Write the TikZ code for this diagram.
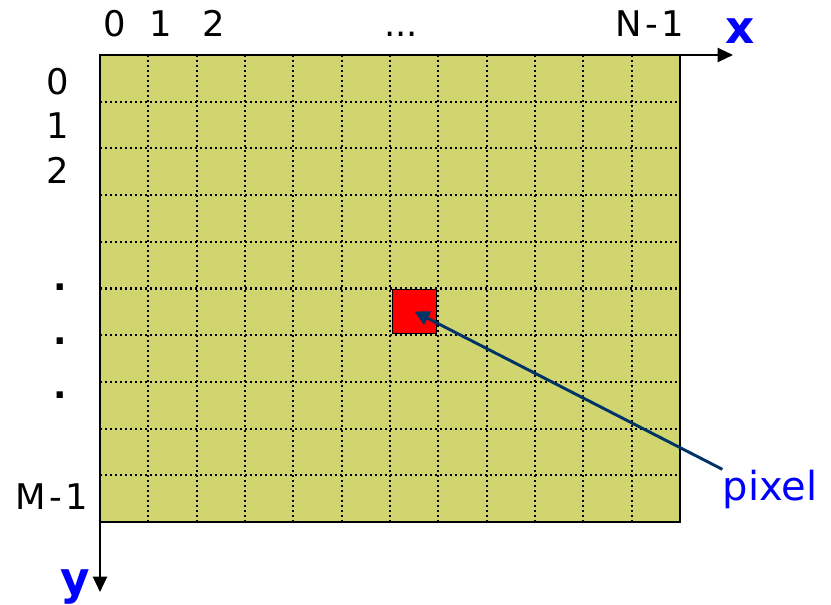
\documentclass[tikz,border=0pt]{standalone}
\usepackage{fontspec}
\setmainfont{DejaVu Sans}
\usetikzlibrary{arrows.meta, positioning}
\definecolor{gridfill}{RGB}{208,213,111}
\definecolor{navy}{RGB}{0,51,102}

\begin{document}
\begin{tikzpicture}[x=0.75pt, y=-0.75pt,
  every node/.style={inner sep=0pt, font=\fontsize{26.5}{30}\selectfont},
  cellline/.style={line width=1.6pt, dash pattern=on 1.6pt off 2.15pt},
  axis/.style={line width=1.6pt, -{Triangle[length=11.5pt, width=10.5pt]}},
  axislbl/.style={text=blue, font=\fontsize{34}{40}\selectfont\bfseries},
  pixbox/.style={draw, line width=1.2pt, fill=red, minimum size=33pt}]

\useasboundingbox (0,0) rectangle (831,604);

% image area with cell lines
\fill[gridfill] (100,55) rectangle (680,522);
\foreach \i in {1,...,11}
  \draw[cellline] (100+48.333*\i,55) -- (100+48.333*\i,522);
\foreach \j in {1,...,9}
  \draw[cellline] (100,55+46.7*\j) -- (680,55+46.7*\j);
\draw[line width=1.2pt] (100,55) rectangle (680,522);

% axes
\coordinate (origin) at (100,55);
\coordinate (xend) at (733,55);
\coordinate (yend) at (100,592);
\draw[axis] (origin) -- (xend);
\draw[axis] (origin) -- (yend);
\node[axislbl, anchor=base] (xlab) at (740,43) {x};
\node[axislbl, anchor=base] (ylab) at (75,594) {y};

% column and row indices
\foreach \x/\t [count=\k] in {115/0, 161/1, 214/2, 401/{...}, 650/{N\kern2.5pt-\kern2.5pt1}}
  \node[anchor=base] (col\k) at (\x,36) {\t};
\foreach \y/\t [count=\k] in {94/0, 138/1, 183/2}
  \node[anchor=base] (row\k) at (58,\y) {\t};
\foreach \y [count=\k] in {290, 344, 398}
  \node[anchor=base, font=\fontsize{26.5}{30}\selectfont\bfseries] (vdot\k) at (60,\y) {.};
\node[anchor=base] (rowlast) at (52,509) {M\kern2.5pt-\kern2.5pt1};

% one pixel
\node[pixbox] (pix) at (414.5,311.5) {};
\node[anchor=base, text=blue, font=\fontsize{30}{36}\selectfont] (pixlab) at (770,500) {pixel};
\draw[navy, line width=2.2pt, -{Triangle[length=11pt, width=11pt]}] (pixlab.north west) -- (pix.center);

\end{tikzpicture}
\end{document}
